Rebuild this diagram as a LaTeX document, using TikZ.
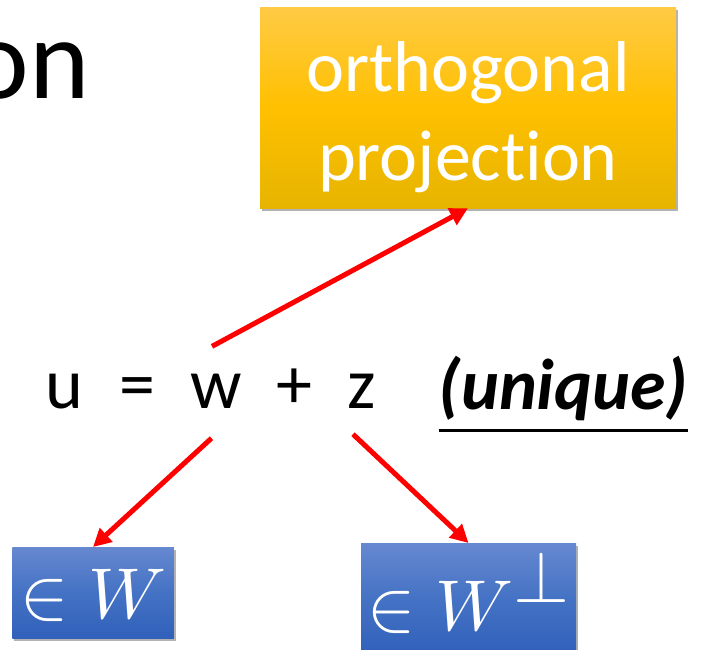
\documentclass[tikz,border=0pt]{standalone}
\usepackage{fontspec}
\usepackage{unicode-math}
\setmainfont{Carlito}[Ligatures=NoCommon]
\setmathfont{Latin Modern Math}
\usetikzlibrary{positioning,arrows.meta,calc,shadows}

\definecolor{projtop}{HTML}{FFCA45}
\definecolor{projmid}{HTML}{FFC000}
\definecolor{projbot}{HTML}{E6B400}
\definecolor{subtop}{HTML}{6688D0}
\definecolor{submid}{HTML}{4472C4}
\definecolor{subbot}{HTML}{3060BA}

\begin{document}
\begin{tikzpicture}[
    x=1pt, y=-1pt,
    every node/.style={inner sep=0pt, font=\fontsize{72}{89}\selectfont},
    projbox/.style={top color=projtop, bottom color=projbot, middle color=projmid, text=white, align=center,
      minimum width=416pt, minimum height=201pt,
      drop shadow={shadow xshift=2pt, shadow yshift=-3pt, fill=black, opacity=0.3}},
    subbox/.style={top color=subtop, bottom color=subbot, middle color=submid, text=white, inner xsep=8pt,
      drop shadow={shadow xshift=2pt, shadow yshift=-3pt, fill=black, opacity=0.3}},
    symb/.style={anchor=base},
    redarrow/.style={->, draw=red, line width=5pt},
    >={Triangle[length=18pt, width=18pt]}
  ]
    \useasboundingbox (0,0) rectangle (707,649);
    \clip (0,0) rectangle (707,649);

    % title fragment
    \node[font=\fontsize{115}{130}\selectfont, anchor=base east] (title) at (90,98) {on};

    \node[projbox] (proj) at (468,107.5) {\rule{0pt}{70pt}orthogonal\\projection};

    % u = w + z
    \node[symb] (u) at (64.5,408) {u};
    \node[symb] (eq) at (137,408) {=};
    \node[symb] (w) at (216.5,408) {w};
    \node[symb] (plus) at (294.5,408) {+};
    \node[symb] (z) at (362,408) {z};
    \node[symb] (unique) at (563.5,409) {$\underline{\mbox{\textbf{\textit{(unique)}}}}$};

    \node[subbox, anchor=north, minimum width=160pt, text height=71pt, text depth=20pt] (inW) at (93,547) {$\in W$};
    \node[subbox, inner xsep=5pt, anchor=north, minimum width=215pt, text height=87pt, text depth=25pt] (inWperp) at (468.5,543)
      {$\in W\raisebox{28pt}{$\bot$}$};

    \draw[redarrow] ([shift={(-4.5,-27)}]w.north) -- (proj.south);
    \draw[redarrow] ([shift={(-5,30)}]w.south) -- (inW.north);
    \draw[redarrow] ([shift={(-9,26)}]z.south) -- (inWperp.north);
  \end{tikzpicture}
\end{document}
